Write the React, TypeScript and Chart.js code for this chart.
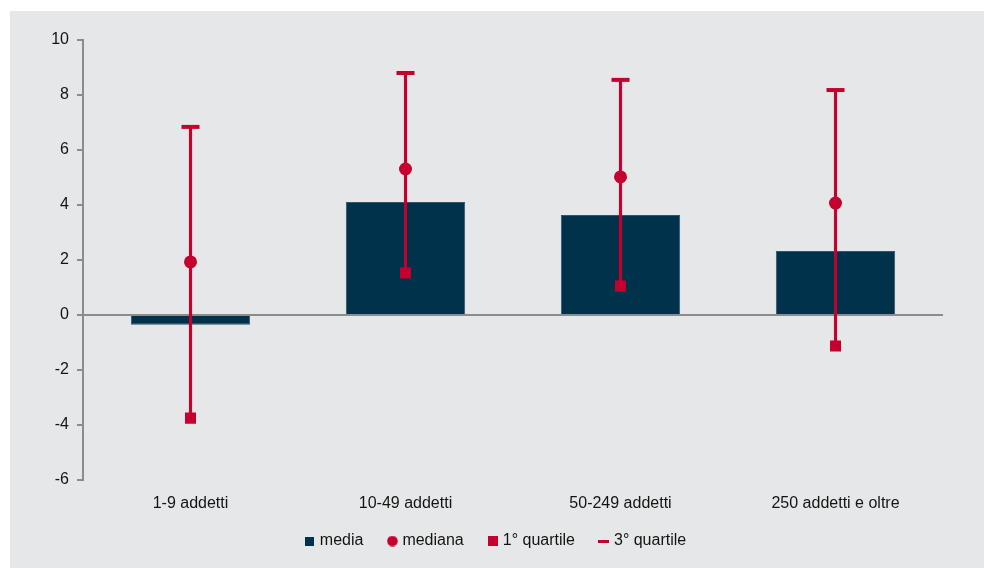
import React, { useEffect, useRef } from "react";
import { Chart, registerables } from "chart.js";

Chart.register(...registerables);

const categories = ["1-9 addetti", "10-49 addetti", "50-249 addetti", "250 addetti e oltre"];
const media = [-0.35, 4.11, 3.64, 2.33];
const mediana = [1.93, 5.31, 5.02, 4.07];
const quartile1 = [-3.75, 1.53, 1.05, -1.13];
const quartile3 = [6.84, 8.8, 8.55, 8.18];
const yTicks = { min: -6, max: 10, step: 2 };

const NAVY = "#00324b";
const RED = "#c5002f";
const AXIS = "#8c8c8c";
const TEXT = "#141414";

function marker(kind: string): HTMLCanvasElement {
  const c = document.createElement("canvas");
  const ctx = c.getContext("2d")!;
  if (kind === "media") {
    c.width = 9; c.height = 9;
    ctx.fillStyle = NAVY; ctx.fillRect(0, 0, 9, 9);
  } else if (kind === "mediana") {
    c.width = 11; c.height = 11;
    ctx.fillStyle = RED; ctx.beginPath(); ctx.arc(5.5, 5.5, 5.3, 0, Math.PI * 2); ctx.fill();
  } else if (kind === "q1") {
    c.width = 10; c.height = 10;
    ctx.fillStyle = RED; ctx.fillRect(0, 0, 10, 10);
  } else {
    c.width = 11; c.height = 3;
    ctx.fillStyle = RED; ctx.fillRect(0, 0, 11, 3);
  }
  return c;
}

// let the x-axis labels extend below the (narrow) x-axis box without being clipped
const unclipXLabels = {
  id: "unclipXLabels",
  afterLayout(chart: any) {
    const x = chart.scales.x;
    if (x) x.bottom = x.bottom + 14;
  },
};

export default function App() {
  const ref = useRef<HTMLCanvasElement>(null);
  useEffect(() => {
    Chart.defaults.font.family = '"Liberation Sans", Arial, sans-serif';
    Chart.defaults.font.size = 16;
    Chart.defaults.color = TEXT;
    const legendMarkers: Record<string, HTMLCanvasElement> = {
      media: marker("media"),
      mediana: marker("mediana"),
      "1° quartile": marker("q1"),
      "3° quartile": marker("q3"),
    };
    const chart = new Chart(ref.current!, {
      type: "bar",
      data: {
        labels: categories,
        datasets: [
          {
            type: "bar",
            label: "media",
            data: media,
            backgroundColor: NAVY,
            borderColor: "#2f5570",
            borderWidth: 1,
            grouped: false,
            barPercentage: 0.555,
            categoryPercentage: 1,
            order: 4,
          } as any,
          {
            type: "bar",
            label: "range",
            data: categories.map((_, i) => [quartile1[i], quartile3[i]]),
            backgroundColor: RED,
            grouped: false,
            barThickness: 2.5,
            order: 3,
          } as any,
          {
            type: "line",
            label: "mediana",
            data: mediana,
            showLine: false,
            pointStyle: "circle",
            pointRadius: 6.5,
            pointBackgroundColor: RED,
            pointBorderWidth: 0,
            backgroundColor: RED,
            borderColor: RED,
            order: 1,
          } as any,
          {
            type: "line",
            label: "1° quartile",
            data: quartile1,
            showLine: false,
            pointStyle: "rect",
            pointRadius: 7.8,
            pointBackgroundColor: RED,
            pointBorderWidth: 0,
            backgroundColor: RED,
            borderColor: RED,
            order: 1,
          } as any,
          {
            type: "line",
            label: "3° quartile",
            data: quartile3,
            showLine: false,
            pointStyle: "line",
            pointRadius: 9,
            pointBorderColor: RED,
            pointBorderWidth: 4,
            backgroundColor: RED,
            borderColor: RED,
            order: 1,
          } as any,
        ],
      },
      plugins: [unclipXLabels],
      options: {
        animation: false,
        responsive: true,
        maintainAspectRatio: false,
        layout: { padding: { left: 0, right: 0, top: 29, bottom: 9 } },
        plugins: {
          tooltip: { enabled: false },
          legend: {
            position: "bottom",
            labels: {
              usePointStyle: true,
              boxWidth: 4,
              padding: 27,
              color: TEXT,
              font: { size: 16 },
              sort: (a: any, b: any) => a.datasetIndex - b.datasetIndex,
              filter: (item: any) => item.text !== "range",
              generateLabels: (ch: any) => {
                const items = Chart.defaults.plugins.legend.labels.generateLabels(ch);
                return items.map((it: any) => ({
                  ...it,
                  pointStyle: legendMarkers[it.text] || it.pointStyle,
                  lineWidth: 0,
                }));
              },
            },
          },
        },
        scales: {
          x: {
            grid: { display: false },
            border: { display: false },
            ticks: { padding: 6, color: TEXT, font: { size: 16 } },
            afterFit: (s: any) => { s.height = 26; },
          },
          y: {
            min: yTicks.min,
            max: yTicks.max,
            ticks: { stepSize: yTicks.step, padding: 8, color: TEXT, font: { size: 16 } },
            grid: {
              drawOnChartArea: true,
              drawTicks: true,
              tickLength: 6,
              lineWidth: 2,
              color: (c: any) => (c.tick && c.tick.value === 0 ? AXIS : "rgba(0,0,0,0)"),
              tickColor: AXIS,
            },
            border: { display: true, color: AXIS, width: 2 },
            afterFit: (s: any) => { s.width = 73; },
          },
          yRight: {
            position: "right",
            display: true,
            grid: { display: false },
            border: { display: false },
            ticks: { display: false },
            afterFit: (s: any) => { s.width = 41; },
          },
        },
      } as any,
    });
    return () => chart.destroy();
  }, []);
  return (
    <div
      style={{
        position: "fixed",
        left: 10,
        top: 11,
        width: 974,
        height: 557,
        background: "#e6e7e8",
      }}
    >
      <canvas ref={ref} />
    </div>
  );
}
